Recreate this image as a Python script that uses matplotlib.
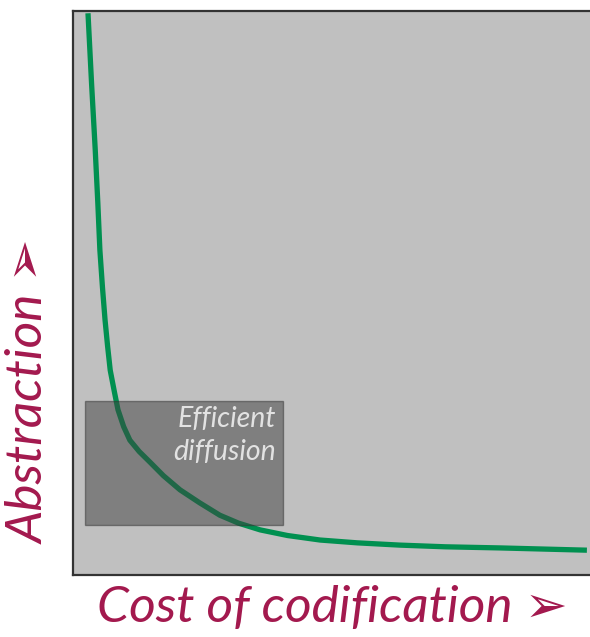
import matplotlib
matplotlib.use('Agg')
import matplotlib.pyplot as plt
import matplotlib.patches as mpatches

# curve (axes units 0..100)
cost = [2.9, 3.6, 4.3, 4.8, 5.2, 5.7, 6.2, 6.7, 7.2, 8.0, 8.7, 9.8, 11.0, 12.8, 14.9, 17.5, 20.7, 24.5,
        28.4, 32.0, 36.2, 41.5, 47.8, 55.0, 63.2, 72.0, 82.6, 91.0, 99.4]
abstraction = [99.6, 87.0, 75.4, 66.0, 57.6, 51.0, 45.2, 40.5, 36.3, 32.5, 29.3, 26.3, 23.9, 21.9, 20.0,
               17.6, 15.1, 12.8, 10.6, 9.2, 8.0, 7.0, 6.2, 5.7, 5.3, 5.0, 4.8, 4.6, 4.4]

box_xy = (2.3, 8.9)
box_w, box_h = 38.3, 22.0
box_text = 'Efficient\ndiffusion'

xlabel = 'Cost of codification \u27a2'
ylabel = 'Abstraction \u27a2'

label_color = '#a3194e'

fig = plt.figure(figsize=(5.9, 6.37), dpi=100)
ax = fig.add_axes([73/590, 1-575/637, 517/590, 564/637])
ax.set_facecolor('#c0c0c0')
ax.set_xlim(0, 100)
ax.set_ylim(0, 100)
ax.set_xticks([])
ax.set_yticks([])
for s in ax.spines.values():
    s.set_color('#333333')
    s.set_linewidth(1.6)
ax.spines['right'].set_visible(False)

ax.plot(cost, abstraction, color='#009050', lw=3.8, solid_capstyle='butt', zorder=2)

rect = mpatches.Rectangle(box_xy, box_w, box_h, facecolor='#404040', alpha=0.5,
                          edgecolor='#333333', lw=1, zorder=3)
ax.add_patch(rect)
ax.text(box_xy[0] + box_w - 1.3, box_xy[1] + box_h - 1.0, box_text, ha='right', va='top',
        color='#e2e2e2', fontsize=20.5, style='italic', family=['Lato', 'DejaVu Sans'],
        linespacing=1.3, zorder=4)

fig.text(332/590, 1-608/637, xlabel, ha='center', va='center', color=label_color,
         fontsize=37, style='italic', family=['Lato', 'DejaVu Sans'])
fig.text(30/590, 1-392/637, ylabel, ha='center', va='center', rotation=90, color=label_color,
         fontsize=37, style='italic', family=['Lato', 'DejaVu Sans'])

fig.savefig('out.png', dpi=100)
